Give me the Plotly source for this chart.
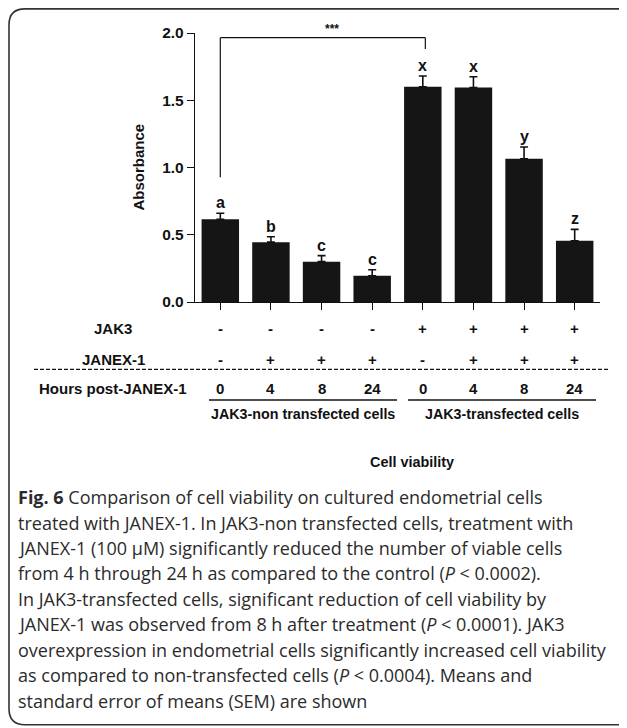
import plotly.graph_objects as go

# ---------------- data ----------------
categories = [0, 1, 2, 3, 4, 5, 6, 7]
absorbance = [0.615, 0.445, 0.30, 0.195, 1.60, 1.595, 1.065, 0.455]
sem = [0.045, 0.04, 0.045, 0.045, 0.08, 0.08, 0.087, 0.085]
letters = ["a", "b", "c", "c", "x", "x", "y", "z"]
jak3_row = ["-", "-", "-", "-", "+", "+", "+", "+"]
janex_row = ["-", "+", "+", "+", "-", "+", "+", "+"]
hours_row = ["0", "4", "8", "24", "0", "4", "8", "24"]
row_titles = ["JAK3", "JANEX-1", "Hours post-JANEX-1"]
group_labels = ["JAK3-non transfected cells", "JAK3-transfected cells"]
y_ticks = [0.0, 0.5, 1.0, 1.5, 2.0]
bracket_pair = [0, 4]
caption_lines = [
    "<b>Fig. 6</b> Comparison of cell viability on cultured endometrial cells",
    "treated with JANEX-1. In JAK3-non transfected cells, treatment with",
    "JANEX-1 (100 µM) significantly reduced the number of viable cells",
    "from 4 h through 24 h as compared to the control (<i>P</i> &lt; 0.0002).",
    "In JAK3-transfected cells, significant reduction of cell viability by",
    "JANEX-1 was observed from 8 h after treatment (<i>P</i> &lt; 0.0001). JAK3",
    "overexpression in endometrial cells significantly increased cell viability",
    "as compared to non-transfected cells (<i>P</i> &lt; 0.0004). Means and",
    "standard error of means (SEM) are shown",
]

# ---------------- geometry (window pixels) ----------------
OFF = 8                      # default page body margin
WIN_W, WIN_H = 627, 728
W, H = WIN_W - OFF, WIN_H - OFF
L, R, T, B = 195, 600, 33, 302.5   # plot area in window pixels
PW, PH = R - L, B - T


def px_x(x):
    return (x - L) / PW


def px_y(y):
    return (B - y) / PH


CH = "Liberation Sans, Arial, Helvetica, sans-serif"
CAP = "Open Sans, Noto Sans, sans-serif"
INK = "#111111"

fig = go.Figure()
fig.add_trace(go.Bar(
    x=categories, y=absorbance, width=0.74,
    marker=dict(color="#151515", line=dict(width=0)),
    error_y=dict(type="data", array=sem, arrayminus=[0] * len(sem),
                 symmetric=False, color=INK, thickness=1.6, width=4),
    showlegend=False, hoverinfo="skip",
))

ann = []
# significance letters
for xi, v, e, t in zip(categories, absorbance, sem, letters):
    ann.append(dict(x=xi, y=v + e, xref="x", yref="y", text=f"<b>{t}</b>",
                    showarrow=False, yanchor="bottom", yshift=0,
                    font=dict(family=CH, size=16, color=INK)))

# bracket
b0, b1 = bracket_pair
ytop = 1.965
fig.add_shape(type="line", xref="x", yref="y", x0=b0, x1=b0, y0=0.927, y1=ytop,
              line=dict(color=INK, width=1.2))
fig.add_shape(type="line", xref="x", yref="y", x0=b1 + 0.05, x1=b1 + 0.05, y0=1.881, y1=ytop,
              line=dict(color=INK, width=1.2))
fig.add_shape(type="line", xref="x", yref="y", x0=b0, x1=b1 + 0.05, y0=ytop, y1=ytop,
              line=dict(color=INK, width=1.2))
ann.append(dict(x=(b0 + b1) / 2 + 0.2, y=ytop, xref="x", yref="y", text="<b>***</b>",
                showarrow=False, yanchor="bottom", yshift=0,
                font=dict(family=CH, size=12, color=INK)))

# y-axis title
ann.append(dict(x=px_x(138), y=1.0, xref="paper", yref="y", text="<b>Absorbance</b>",
                textangle=-90, showarrow=False, xanchor="center", yanchor="middle",
                font=dict(family=CH, size=15, color=INK)))

# row titles and row values
row_y = [329, 360, 389.5]
rows = [jak3_row, janex_row, hours_row]
for title, ypx, vals in zip(row_titles, row_y, rows):
    ann.append(dict(x=px_x(113), y=px_y(ypx), xref="paper", yref="paper",
                    text=f"<b>{title}</b>", showarrow=False, xanchor="center",
                    yanchor="middle", font=dict(family=CH, size=15, color=INK)))
    for xi, v in zip(categories, vals):
        ann.append(dict(x=xi, y=px_y(ypx), xref="x", yref="paper", text=f"<b>{v}</b>",
                        showarrow=False, xanchor="center", yanchor="middle",
                        font=dict(family=CH, size=15, color=INK)))

# group labels + underlines
grp_spans = [(209, 397), (408, 596)]
for lab, (a, b) in zip(group_labels, grp_spans):
    fig.add_shape(type="line", xref="paper", yref="paper", x0=px_x(a), x1=px_x(b),
                  y0=px_y(400.7), y1=px_y(400.7), line=dict(color=INK, width=1.6))
    ann.append(dict(x=px_x((a + b) / 2), y=px_y(414.5), xref="paper", yref="paper",
                    text=f"<b>{lab}</b>", showarrow=False, xanchor="center",
                    yanchor="middle", font=dict(family=CH, size=14.3, color=INK)))

# dashed separator
fig.add_shape(type="line", xref="paper", yref="paper", x0=px_x(34), x1=px_x(608),
              y0=px_y(370), y1=px_y(370), line=dict(color=INK, width=1.3, dash="4px,2px"))

# Cell viability
ann.append(dict(x=px_x(412), y=px_y(463), xref="paper", yref="paper",
                text="<b>Cell viability</b>", showarrow=False, xanchor="center",
                yanchor="middle", font=dict(family=CH, size=14.4, color=INK)))

# caption
for i, line in enumerate(caption_lines):
    ann.append(dict(x=px_x(16), y=px_y(498 + i * 25.5), xref="paper", yref="paper",
                    text=line, showarrow=False, xanchor="left", yanchor="middle",
                    font=dict(family=CAP, size=18, color="#2b2b2b")))

# rounded border box
x0, x1, y0, y1, r = 9, 640, 8.8, 726, 16
path = (f"M {px_x(x0)},{px_y(y0 + r)} Q {px_x(x0)},{px_y(y0)} {px_x(x0 + r)},{px_y(y0)} "
        f"L {px_x(x1 - r)},{px_y(y0)} Q {px_x(x1)},{px_y(y0)} {px_x(x1)},{px_y(y0 + r)} "
        f"L {px_x(x1)},{px_y(y1 - r)} Q {px_x(x1)},{px_y(y1)} {px_x(x1 - r)},{px_y(y1)} "
        f"L {px_x(x0 + r)},{px_y(y1)} Q {px_x(x0)},{px_y(y1)} {px_x(x0)},{px_y(y1 - r)} Z")
fig.add_shape(type="path", xref="paper", yref="paper", path=path,
              line=dict(color="#333333", width=1.6))

fig.update_layout(
    width=W, height=H, autosize=False,
    margin=dict(l=L - OFF, r=WIN_W - R, t=T - OFF, b=WIN_H - B, pad=0),
    paper_bgcolor="white", plot_bgcolor="white",
    annotations=ann, bargap=0.26,
    xaxis=dict(range=[-0.5, 7.5], tickvals=categories, showticklabels=False,
               ticks="outside", ticklen=7, tickwidth=1.3, tickcolor=INK,
               showline=True, linecolor=INK, linewidth=1.3, showgrid=False,
               zeroline=False, fixedrange=True),
    yaxis=dict(range=[0, 2.0], tickvals=y_ticks, ticktext=[f"<b>{v:.1f}</b>" for v in y_ticks],
               ticks="outside", ticklen=7, tickwidth=1.3, tickcolor=INK,
               tickfont=dict(family=CH, size=15.5, color=INK),
               showline=True, linecolor=INK, linewidth=1.3, showgrid=False,
               zeroline=False, fixedrange=True),
)

fig.write_html("out.html")
